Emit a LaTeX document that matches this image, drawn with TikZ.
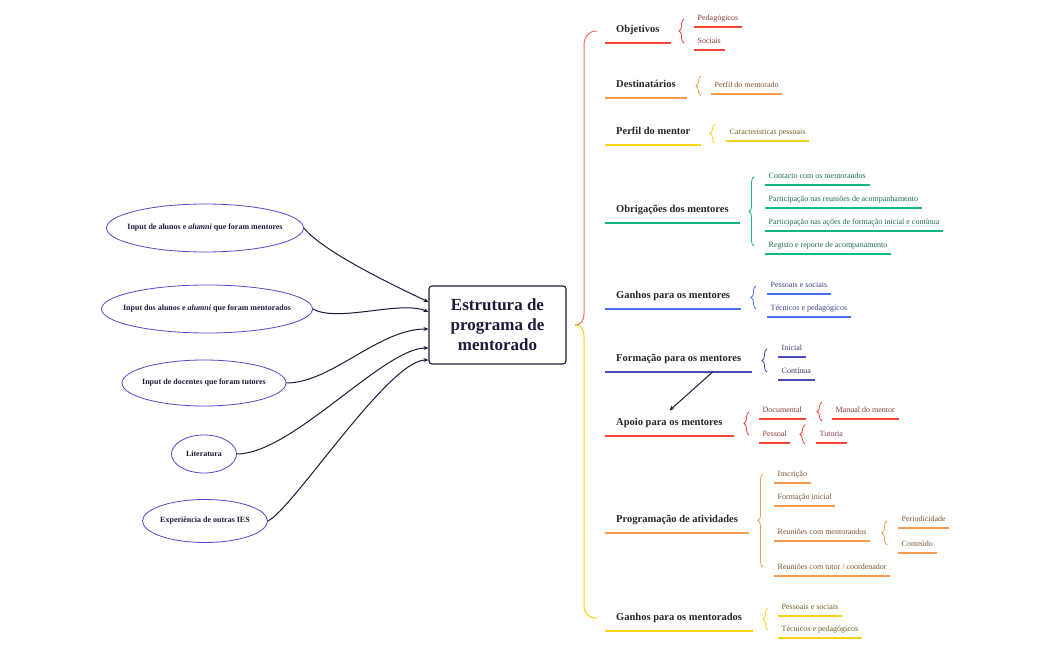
\documentclass[tikz,border=0pt]{standalone}
\usepackage{fontspec}
\setmainfont{Liberation Serif}
\usetikzlibrary{shapes.geometric,arrows.meta,decorations.pathreplacing}

\definecolor{cRed}{HTML}{F4433A}
\definecolor{cRedL}{HTML}{F56B66}
\definecolor{cOrange}{HTML}{F79B4D}
\definecolor{cYellow}{HTML}{F5D316}
\definecolor{cGreen}{HTML}{12B886}
\definecolor{cBlue}{HTML}{4C6EF5}
\definecolor{cIndigo}{HTML}{4B4BB8}
\definecolor{tRed}{HTML}{8A3B3B}
\definecolor{tOrange}{HTML}{7D5430}
\definecolor{tYellow}{HTML}{6B6020}
\definecolor{tGreen}{HTML}{1A6B50}
\definecolor{tBlue}{HTML}{3A3F8A}
\definecolor{tIndigo}{HTML}{3C3C6E}
\definecolor{cSrc}{HTML}{4F4AD0}
\definecolor{cNavy}{HTML}{1B1B3A}

\tikzset{
  topic/.style={anchor=south west, inner xsep=11pt, inner ysep=7pt, text height=8pt, text depth=3pt,
    font=\fontsize{10.5}{12}\selectfont\bfseries, text=black!85},
  leaf/.style={anchor=south west, inner xsep=3.5pt, inner ysep=4.5pt, text height=6pt, text depth=2pt,
    font=\fontsize{8}{9.6}\selectfont, text=#1},
  source/.style={draw=cSrc, ellipse, inner xsep=-40pt, inner ysep=0pt, line width=0.8pt,
    font=\fontsize{8}{9.6}\selectfont\bfseries, text=cNavy},
  feed/.style={draw=cNavy, line width=1pt, -{Stealth[length=5pt,width=4pt]}},
  bracket/.style={decorate, decoration={brace, amplitude=5pt}, draw=#1, line width=0.8pt},
}

\begin{document}
\begin{tikzpicture}[x=1pt,y=-1pt]
  \useasboundingbox (0,0) rectangle (1050,650);

  % centre
  \node[draw=cNavy, line width=1.1pt, rounded corners=3pt, minimum width=137pt, minimum height=78pt,
    align=center, font=\fontsize{17}{20}\selectfont\bfseries, text=cNavy] (root) at (497.5,325)
    {Estrutura de\\programa de\\mentorado};

  % inputs
  \node[source, minimum width=197pt, minimum height=48pt] (inA) at (205,228) {Input de alunos e \textit{alumni} que foram mentores};
  \node[source, minimum width=211pt, minimum height=48pt] (inB) at (207,309) {Input dos alunos e \textit{alumni} que foram mentorados};
  \node[source, minimum width=164pt, minimum height=46pt] (inC) at (204,383) {Input de docentes que foram tutores};
  \node[source, minimum width=65pt, minimum height=38pt] (inD) at (204,454) {Literatura};
  \node[source, minimum width=125pt, minimum height=43pt] (inE) at (205,521) {Experiência de outras IES};

  \draw[feed] (inA.east) .. controls +(20,25) and +(-25,-12) .. ([yshift=23pt]root.west);
  \draw[feed] (inB.east) .. controls +(25,14) and +(-28,-12) .. ([yshift=13pt]root.west);
  \draw[feed] (inC.east) .. controls +(45,0) and +(-50,0) .. ([yshift=-4pt]root.west);
  \draw[feed] (inD.east) .. controls +(55,0) and +(-45,0) .. ([yshift=-23pt]root.west);
  \draw[feed] (inE.east) .. controls +(25,-12) and +(-40,0) .. ([yshift=-35pt]root.west);

  % main bracket
  \draw[cRedL, line width=1pt] (597,31) .. controls (588,31) and (584,37) .. (584,46) -- (584,313)
    .. controls (584,321) and (581,325) .. (575,325);
  \draw[cYellow, line width=1pt] (575,325) .. controls (581,325) and (584,329) .. (584,337) -- (584,605)
    .. controls (584,613) and (588,618) .. (597,618);

  % topics
  \node[topic] (obj) at (605,43) {Objetivos};
  \node[topic] (dest) at (605,98) {Destinatários};
  \node[topic] (perf) at (605,145) {Perfil do mentor};
  \node[topic] (obri) at (605,223) {Obrigações dos mentores};
  \node[topic] (gmen) at (605,309) {Ganhos para os mentores};
  \node[topic] (form) at (605,372) {Formação para os mentores};
  \node[topic] (apoio) at (605,436) {Apoio para os mentores};
  \node[topic] (prog) at (605,533) {Programação de atividades};
  \node[topic] (gmdo) at (605,631) {Ganhos para os mentorados};

  % leaves
  \node[leaf=tRed] (ped) at (694,27) {Pedagógicos};
  \node[leaf=tRed] (soc) at (694,50) {Sociais};
  \node[leaf=tOrange] (pdm) at (711,94) {Perfil do mentorado};
  \node[leaf=tYellow] (car) at (726,141) {Características pessoais};
  \node[leaf=tGreen] (cont) at (765,185) {Contacto com os mentorandos};
  \node[leaf=tGreen] (preu) at (765,208) {Participação nas reuniões de acompanhamento};
  \node[leaf=tGreen] (pfor) at (765,231) {Participação nas ações de formação inicial e contínua};
  \node[leaf=tGreen] (reg) at (765,254) {Registo e reporte de acompanamento};
  \node[leaf=tBlue] (ps1) at (767,294) {Pessoais e sociais};
  \node[leaf=tBlue] (tp1) at (767,317) {Técnicos e pedagógicos};
  \node[leaf=tIndigo] (ini) at (778,357) {Inicial};
  \node[leaf=tIndigo] (cnt) at (778,380) {Contínua};
  \node[leaf=tRed] (doc) at (759,419) {Documental};
  \node[leaf=tRed] (pes) at (759,443) {Pessoal};
  \node[leaf=tRed] (man) at (832,419) {Manual do mentor};
  \node[leaf=tRed] (tut) at (816,443) {Tutoria};
  \node[leaf=tOrange] (insc) at (774,483) {Inscrição};
  \node[leaf=tOrange] (fini) at (774,506) {Formação inicial};
  \node[leaf=tOrange] (rmen) at (774,541) {Reuniões com mentorandos};
  \node[leaf=tOrange] (rtut) at (774,576) {Reuniões com tutor / coordenador};
  \node[leaf=tOrange] (peri) at (898,528) {Periodicidade};
  \node[leaf=tOrange] (ctd) at (898,553) {Conteúdo};
  \node[leaf=tYellow] (ps2) at (778,616) {Pessoais e sociais};
  \node[leaf=tYellow] (tp2) at (778,638) {Técnicos e pedagógicos};

  % underlines
  \foreach \n/\c in {obj/cRed, dest/cOrange, perf/cYellow, obri/cGreen, gmen/cBlue,
      form/cIndigo, apoio/cRed, prog/cOrange, gmdo/cYellow}
    \draw[\c, line width=2.8pt] (\n.south west) -- (\n.south east);
  \foreach \n/\c in {ped/cRed, soc/cRed, pdm/cOrange, car/cYellow, cont/cGreen, preu/cGreen,
      pfor/cGreen, reg/cGreen, ps1/cBlue, tp1/cBlue, ini/cIndigo, cnt/cIndigo, doc/cRed,
      pes/cRed, man/cRed, tut/cRed, insc/cOrange, fini/cOrange, rmen/cOrange, rtut/cOrange,
      peri/cOrange, ctd/cOrange, ps2/cYellow, tp2/cYellow}
    \draw[\c, line width=2.3pt] (\n.south west) -- (\n.south east);

  % braces
  \draw[bracket=cRed] (684,43) -- (684,19);
  \draw[bracket=cOrange] (701,96) -- (701,76);
  \draw[bracket=cYellow] (715,143) -- (715,124);
  \draw[bracket=cGreen] (754,246) -- (754,177);
  \draw[bracket=cBlue] (756,309) -- (756,286);
  \draw[bracket=cIndigo] (767,372) -- (767,349);
  \draw[bracket=cRed] (749,435) -- (749,412);
  \draw[bracket=cRed] (822,421) -- (822,402);
  \draw[bracket=cRed] (805,444) -- (805,425);
  \draw[bracket=cOrange] (763,567) -- (763,474);
  \draw[bracket=cOrange] (887,545) -- (887,521);
  \draw[bracket=cYellow] (768,630) -- (768,608);

  % cross link
  \draw[feed] ([xshift=34pt]form.south) -- (apoio.north);
\end{tikzpicture}
\end{document}
